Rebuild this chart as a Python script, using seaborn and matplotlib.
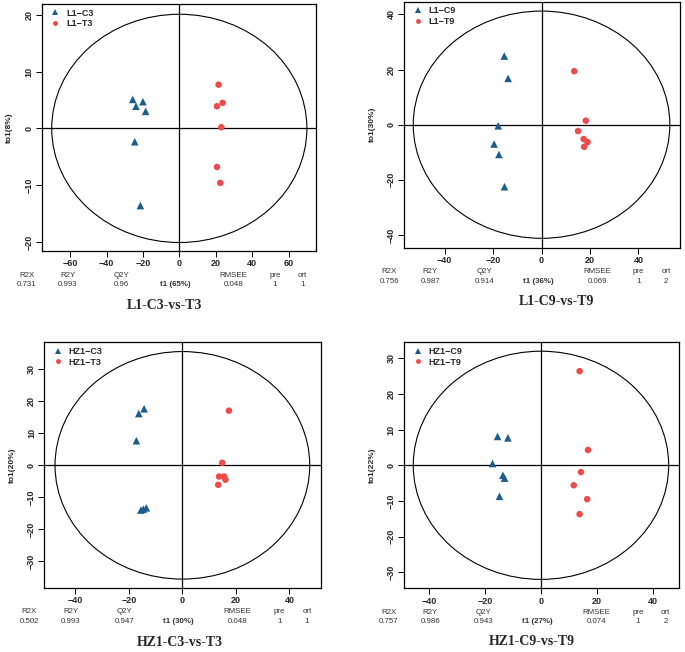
"""OPLS-DA score plots for the four control vs treatment comparisons."""
import matplotlib

matplotlib.use("Agg")
import matplotlib.pyplot as plt
import matplotlib.transforms as mtransforms
import numpy as np
import pandas as pd
import seaborn as sns
from matplotlib.patches import Ellipse

# panel titles and group labels
titles = ["L1-C3-vs-T3", "L1-C9-vs-T9", "HZ1-C3-vs-T3", "HZ1-C9-vs-T9"]
ctrl_labels = ["L1\u2212C3", "L1\u2212C9", "HZ1\u2212C3", "HZ1\u2212C9"]
trt_labels = ["L1\u2212T3", "L1\u2212T9", "HZ1\u2212T3", "HZ1\u2212T9"]
t1_pct = ["t1 (65%)", "t1 (36%)", "t1 (30%)", "t1 (27%)"]
to1_pct = ["to1(8%)", "to1(30%)", "to1(20%)", "to1(22%)"]

# scores: control (triangles)
ctrl_t1 = [
    [-25.6, -23.8, -20.0, -18.5, -24.5, -21.4],
    [-15.4, -13.8, -17.9, -19.6, -17.6, -15.3],
    [-16.3, -14.3, -17.2, -15.5, -14.6, -13.5],
    [-15.5, -11.8, -17.3, -13.6, -13.0, -14.8],
]
ctrl_to1 = [
    [5.1, 3.9, 4.7, 3.0, -2.35, -13.6],
    [24.9, 16.8, -0.4, -7.0, -10.8, -22.5],
    [16.2, 17.7, 7.7, -14.0, -13.7, -13.3],
    [8.1, 7.7, 0.5, -2.8, -3.6, -8.7],
]
# scores: treatment (circles)
trt_t1 = [
    [21.6, 20.7, 23.8, 23.1, 20.7, 22.5],
    [13.5, 18.3, 15.1, 17.4, 19.0, 17.6],
    [17.4, 14.9, 13.7, 15.6, 16.1, 13.4],
    [13.8, 16.8, 14.3, 11.7, 16.5, 13.8],
]
trt_to1 = [
    [7.7, 3.9, 4.5, 0.2, -6.8, -9.6],
    [19.4, 1.45, -2.3, -5.2, -6.3, -8.0],
    [17.1, 0.8, -3.5, -3.5, -4.5, -6.1],
    [26.4, 4.3, -1.9, -5.6, -9.5, -13.7],
]

# Hotelling T2 ellipse half axes (t1, to1)
ellipse_a = [70.1, 53.0, 47.6, 45.6]
ellipse_b = [20.1, 41.2, 35.6, 32.0]

# model summary
r2x = ["0.731", "0.756", "0.502", "0.757"]
r2y = ["0.993", "0.987", "0.993", "0.986"]
q2y = ["0.96", "0.914", "0.947", "0.943"]
rmsee = ["0.048", "0.069", "0.048", "0.074"]
pre = ["1", "1", "1", "1"]
ort = ["1", "2", "1", "2"]

# axis ranges and ticks
xlims = [(-75.6, 75.1), (-56.7, 57.2), (-51.6, 51.7), (-48.9, 49.4)]
ylims = [(-21.6, 21.9), (-44.6, 44.6), (-38.3, 38.5), (-34.5, 34.5)]
xticks = [[-60, -40, -20, 0, 20, 40, 60], [-40, -20, 0, 20, 40],
          [-40, -20, 0, 20, 40], [-40, -20, 0, 20, 40]]
yticks = [[-20, -10, 0, 10, 20], [-40, -20, 0, 20, 40],
          [-30, -20, -10, 0, 10, 20, 30], [-30, -20, -10, 0, 10, 20, 30]]

BLUE = "#1B5E8E"
RED = "#EF4A4A"

axes_pos = [
    [0.0609, 0.6150, 0.4004, 0.3788],
    [0.5902, 0.6201, 0.4025, 0.3773],
    [0.0647, 0.0986, 0.4035, 0.3764],
    [0.5898, 0.0977, 0.4019, 0.3773],
]
title_xy = [(0.240, 0.531), (0.812, 0.537), (0.263, 0.015), (0.776, 0.016)]
stat_x = [-0.055, 0.095, 0.29, 0.486, 0.70, 0.85, 0.95]

sns.set_style("white")
plt.rcParams["font.family"] = ["Liberation Sans", "DejaVu Sans"]

fig = plt.figure(figsize=(6.85, 6.52), dpi=100)

for i in range(4):
    ax = fig.add_axes(axes_pos[i])
    df = pd.DataFrame({
        "t1": ctrl_t1[i] + trt_t1[i],
        "to1": ctrl_to1[i] + trt_to1[i],
        "group": [ctrl_labels[i]] * len(ctrl_t1[i]) + [trt_labels[i]] * len(trt_t1[i]),
    })
    sns.scatterplot(
        data=df, x="t1", y="to1", hue="group", style="group", size="group",
        hue_order=[ctrl_labels[i], trt_labels[i]],
        palette=[BLUE, RED],
        markers={ctrl_labels[i]: "^", trt_labels[i]: "o"},
        sizes={ctrl_labels[i]: 30, trt_labels[i]: 22},
        linewidth=0, ax=ax, zorder=3,
    )
    ax.axhline(0, color="black", lw=0.9, zorder=2)
    ax.axvline(0, color="black", lw=0.9, zorder=2)
    ax.add_patch(Ellipse((0, 0), 2 * ellipse_a[i], 2 * ellipse_b[i],
                         fill=False, ec="black", lw=0.8, zorder=2))
    ax.set_xlim(*xlims[i])
    ax.set_ylim(*ylims[i])
    ax.set_xticks(xticks[i])
    ax.set_yticks(yticks[i])
    ax.tick_params(axis="both", direction="out", length=4, width=0.7,
                   labelsize=6.5, pad=2, color="black", bottom=True, left=True)
    for lab in ax.get_xticklabels() + ax.get_yticklabels():
        lab.set_fontweight("bold")
    for lab in ax.get_yticklabels():
        lab.set_rotation(90)
        lab.set_va("center")
    for sp in ax.spines.values():
        sp.set_color("black")
        sp.set_linewidth(0.9)
    ax.set_xlabel("")
    ax.set_ylabel(to1_pct[i], fontsize=6, fontweight="bold", labelpad=8)

    leg = ax.legend(loc="upper left", frameon=False, fontsize=6.5, markerscale=0.75,
                    handletextpad=0.2, borderaxespad=0.3, labelspacing=0.2,
                    borderpad=0.2)
    for t in leg.get_texts():
        t.set_fontweight("bold")

    # summary rows under the axis
    heads = ["R2X", "R2Y", "Q2Y", "", "RMSEE", "pre", "ort"]
    vals = [r2x[i], r2y[i], q2y[i], t1_pct[i], rmsee[i], pre[i], ort[i]]
    tr_head = mtransforms.offset_copy(ax.transAxes, fig=fig, x=0, y=-24, units="dots")
    tr_val = mtransforms.offset_copy(ax.transAxes, fig=fig, x=0, y=-33.5, units="dots")
    for x, h, v in zip(stat_x, heads, vals):
        ax.text(x, 0, h, transform=tr_head, ha="center", va="center",
                fontsize=5.7, color="#333333")
        ax.text(x, 0, v, transform=tr_val, ha="center", va="center",
                fontsize=5.7, color="#333333",
                fontweight="bold" if v == t1_pct[i] else "normal")

    fig.text(title_xy[i][0], title_xy[i][1], titles[i], ha="center", va="center",
             fontsize=10, fontweight="bold", family="Liberation Serif")

fig.savefig("out.png", dpi=100)
